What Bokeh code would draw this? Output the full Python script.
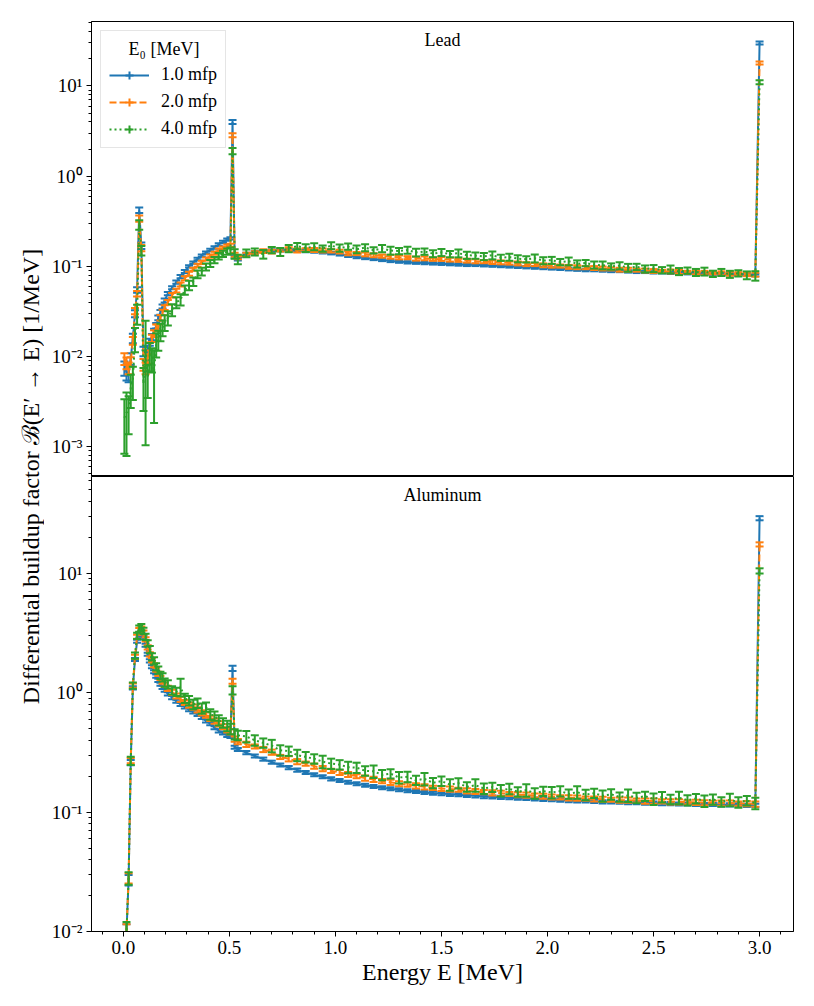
import numpy as np
from bokeh.plotting import figure
from bokeh.models import (ColumnDataSource, Range1d, FixedTicker, CustomJSTickFormatter,
                          PrintfTickFormatter, Legend, LegendItem, Label)
from bokeh.layouts import row, column
from bokeh.embed import file_html
from bokeh.resources import INLINE

FONT = "Liberation Serif"
TEXT_COLOR = "black"

# ---------------- data (bin centres in MeV) ----------------
energy = [0.005, 0.015, 0.025, 0.035, 0.045, 0.055, 0.065, 0.075, 0.085, 0.095,
          0.105, 0.115, 0.125, 0.135, 0.145, 0.155, 0.165, 0.175, 0.185, 0.195,
          0.21, 0.23, 0.25, 0.27, 0.29, 0.31, 0.33, 0.35, 0.37, 0.39, 0.41, 0.43, 0.45, 0.47, 0.49,
          0.505, 0.515, 0.525,
          0.54, 0.58, 0.62, 0.66, 0.70, 0.74, 0.78, 0.82, 0.86, 0.90, 0.94, 0.98,
          1.02, 1.06, 1.10, 1.14, 1.18, 1.22, 1.26, 1.30, 1.34, 1.38, 1.42, 1.46, 1.50,
          1.54, 1.58, 1.62, 1.66, 1.70, 1.74, 1.78, 1.82, 1.86, 1.90, 1.94, 1.98,
          2.02, 2.06, 2.10, 2.14, 2.18, 2.22, 2.26, 2.30, 2.34, 2.38, 2.42, 2.46, 2.50,
          2.54, 2.58, 2.62, 2.66, 2.70, 2.74, 2.78, 2.82, 2.86, 2.90, 2.94, 2.98,
          3.0]

series_labels = ["1.0 mfp", "2.0 mfp", "4.0 mfp"]
legend_title = "E₀ [MeV]"
panel_titles = ["Lead", "Aluminum"]

# Lead
pb_1mfp = [0.0075, 0.0068, 0.0065, 0.0095, 0.016, 0.030, 0.055, 0.42, 0.17, 0.0115,
           0.0105, 0.012, 0.0145, 0.0165, 0.019, 0.022, 0.027, 0.031, 0.036, 0.042,
           0.050, 0.058, 0.067, 0.077, 0.088, 0.100, 0.110, 0.121, 0.132, 0.142, 0.152, 0.162, 0.175, 0.187, 0.198,
           0.205, 4.0, 0.128,
           0.120, 0.138, 0.144, 0.148, 0.150, 0.151, 0.151, 0.150, 0.148, 0.146, 0.143, 0.140,
           0.136, 0.131, 0.127, 0.124, 0.121, 0.118, 0.115, 0.113, 0.111, 0.110, 0.109, 0.108, 0.107,
           0.106, 0.105, 0.104, 0.104, 0.103, 0.102, 0.101, 0.100, 0.099, 0.098, 0.097, 0.096,
           0.095, 0.094, 0.093, 0.092, 0.091, 0.091, 0.090, 0.089, 0.089, 0.088, 0.087, 0.087, 0.086,
           0.086, 0.085, 0.085, 0.084, 0.084, 0.083, 0.083, 0.082, 0.082, 0.081, 0.081, 0.080,
           30.0]
pb_1mfp_err_pct = [18, 20, 20, 15, 12, 9, 7, 7, 8, 12,
                   12, 10, 9, 8, 7, 7, 6, 6, 5, 5,
                   4, 4, 4, 4, 4, 3, 3, 3, 3, 3, 3, 3, 3, 3, 3,
                   3, 5, 4,
                   3, 3, 3, 3, 3, 3, 3, 3, 3, 3, 3, 3,
                   3, 3, 3, 3, 3, 3, 3, 3, 3, 3, 3, 3, 3,
                   3, 3, 3, 3, 3, 3, 3, 3, 3, 3, 3, 3,
                   3, 3, 3, 3, 3, 3, 3, 3, 3, 3, 3, 3, 3,
                   3, 3, 3, 3, 3, 3, 3, 3, 3, 3, 3, 3,
                   4]

pb_2mfp = [0.0095, 0.0085, 0.0075, 0.0088, 0.015, 0.032, 0.050, 0.34, 0.16, 0.0082,
           0.0075, 0.0095, 0.013, 0.016, 0.018, 0.021, 0.021, 0.027, 0.031, 0.035,
           0.040, 0.048, 0.054, 0.063, 0.074, 0.083, 0.093, 0.103, 0.111, 0.121, 0.130, 0.140, 0.152, 0.160, 0.168,
           0.172, 2.85, 0.135,
           0.126, 0.135, 0.142, 0.148, 0.146, 0.152, 0.155, 0.150, 0.153, 0.152, 0.150, 0.149,
           0.146, 0.140, 0.139, 0.136, 0.133, 0.130, 0.128, 0.126, 0.125, 0.122, 0.123, 0.120, 0.121,
           0.119, 0.117, 0.116, 0.114, 0.113, 0.112, 0.111, 0.109, 0.108, 0.106, 0.105, 0.103,
           0.102, 0.101, 0.099, 0.098, 0.097, 0.096, 0.095, 0.094, 0.092, 0.092, 0.091, 0.090, 0.089,
           0.088, 0.088, 0.087, 0.086, 0.086, 0.085, 0.085, 0.084, 0.083, 0.083, 0.082, 0.081,
           18.0]
pb_2mfp_err_pct = [15, 15, 15, 12, 10, 8, 7, 8, 8, 15,
                   15, 12, 10, 9, 9, 8, 8, 7, 7, 6,
                   6, 6, 5, 5, 5, 5, 4, 4, 4, 4, 4, 4, 4, 4, 4,
                   4, 5, 5,
                   5, 5, 4, 5, 5, 4, 5, 5, 4, 5, 5, 4,
                   5, 5, 4, 5, 5, 4, 5, 5, 4, 5, 5, 4, 5,
                   5, 4, 5, 5, 4, 5, 5, 4, 5, 5, 4, 5,
                   5, 4, 5, 5, 4, 5, 5, 4, 5, 5, 4, 5, 5,
                   4, 5, 5, 4, 5, 5, 4, 5, 5, 4, 5, 5,
                   4]

pb_4mfp = [0.0021, 0.0024, 0.0025, 0.0045, 0.0055, 0.016, 0.030, 0.29, 0.15, 0.0050,
           0.013, 0.0058, 0.0105, 0.0095, 0.0068, 0.0140, 0.0155, 0.019, 0.021, 0.024,
           0.027, 0.033, 0.040, 0.043, 0.055, 0.062, 0.068, 0.082, 0.088, 0.099, 0.108, 0.118, 0.130, 0.138, 0.146,
           0.150, 1.9, 0.138,
           0.120, 0.140, 0.145, 0.137, 0.152, 0.145, 0.158, 0.168, 0.160, 0.166, 0.158, 0.170,
           0.160, 0.166, 0.155, 0.162, 0.151, 0.158, 0.150, 0.148, 0.152, 0.143, 0.146, 0.139, 0.143,
           0.137, 0.140, 0.133, 0.132, 0.129, 0.133, 0.125, 0.127, 0.122, 0.120, 0.123, 0.116,
           0.117, 0.112, 0.114, 0.107, 0.109, 0.104, 0.103, 0.100, 0.102, 0.097, 0.099, 0.094, 0.095,
           0.091, 0.093, 0.088, 0.090, 0.086, 0.088, 0.083, 0.086, 0.082, 0.084, 0.080, 0.079,
           11.0]
pb_4mfp_err_pct = [60, 67, 45, 40, 40, 30, 25, 12, 12, 50,
                   92, 40, 35, 30, 73, 30, 25, 22, 20, 20,
                   18, 15, 14, 14, 12, 12, 11, 10, 10, 9, 9, 8, 8, 8, 8,
                   8, 8, 12,
                   12, 10, 9, 11, 8, 10, 9, 8, 10, 9, 8, 9,
                   9, 8, 10, 9, 8, 9, 10, 8, 9, 10, 8, 9, 9,
                   8, 10, 9, 8, 9, 10, 8, 9, 9, 8, 10, 9,
                   9, 8, 10, 9, 8, 9, 10, 8, 9, 10, 8, 9, 9,
                   8, 10, 9, 8, 9, 10, 8, 9, 9, 8, 10, 12,
                   5]

# Aluminum
al_1mfp = [0.002, 0.010, 0.027, 0.26, 1.1, 1.9, 2.7, 3.0, 3.1, 2.9,
           2.5, 2.1, 1.85, 1.65, 1.50, 1.38, 1.27, 1.18, 1.11, 1.05,
           0.98, 0.91, 0.85, 0.80, 0.76, 0.72, 0.69, 0.66, 0.62, 0.58, 0.55, 0.51, 0.48, 0.46, 0.44,
           0.43, 1.6, 0.35,
           0.335, 0.315, 0.295, 0.278, 0.262, 0.248, 0.236, 0.225, 0.215, 0.206, 0.198, 0.190,
           0.184, 0.178, 0.173, 0.168, 0.164, 0.160, 0.157, 0.154, 0.151, 0.149, 0.146, 0.144, 0.143,
           0.141, 0.140, 0.138, 0.137, 0.135, 0.134, 0.133, 0.132, 0.131, 0.130, 0.129, 0.128,
           0.127, 0.126, 0.125, 0.124, 0.124, 0.123, 0.122, 0.122, 0.121, 0.120, 0.120, 0.119, 0.119,
           0.118, 0.118, 0.117, 0.117, 0.116, 0.116, 0.116, 0.115, 0.115, 0.115, 0.114, 0.114,
           29.0]
al_1mfp_err_pct = [20, 15, 10, 5, 3, 3, 3, 3, 3, 3,
                   3, 3, 3, 3, 3, 3, 3, 3, 3, 3,
                   3, 3, 3, 3, 3, 3, 3, 3, 3, 3, 3, 3, 3, 3, 3,
                   3, 5, 3,
                   3, 3, 3, 3, 3, 3, 3, 3, 3, 3, 3, 3,
                   3, 3, 3, 3, 3, 3, 3, 3, 3, 3, 3, 3, 3,
                   3, 3, 3, 3, 3, 3, 3, 3, 3, 3, 3, 3,
                   3, 3, 3, 3, 3, 3, 3, 3, 3, 3, 3, 3, 3,
                   3, 3, 3, 3, 3, 3, 3, 3, 3, 3, 3, 3,
                   4]

al_2mfp = [0.002, 0.010, 0.028, 0.27, 1.15, 2.0, 2.95, 3.35, 3.45, 3.2,
           2.8, 2.4, 2.1, 1.88, 1.70, 1.56, 1.44, 1.33, 1.24, 1.17,
           1.09, 1.01, 0.94, 0.88, 0.83, 0.79, 0.76, 0.72, 0.68, 0.65, 0.61, 0.58, 0.55, 0.52, 0.49,
           0.47, 1.25, 0.41,
           0.39, 0.37, 0.355, 0.335, 0.318, 0.29, 0.28, 0.265, 0.255, 0.243, 0.232, 0.222,
           0.215, 0.207, 0.200, 0.193, 0.188, 0.182, 0.178, 0.173, 0.170, 0.166, 0.163, 0.160, 0.158,
           0.156, 0.154, 0.151, 0.149, 0.147, 0.145, 0.144, 0.142, 0.140, 0.139, 0.138, 0.136,
           0.134, 0.133, 0.132, 0.131, 0.130, 0.129, 0.128, 0.127, 0.126, 0.126, 0.125, 0.124, 0.124,
           0.123, 0.122, 0.122, 0.121, 0.121, 0.120, 0.120, 0.119, 0.119, 0.118, 0.118, 0.117,
           17.5]
al_2mfp_err_pct = [20, 15, 10, 5, 4, 4, 4, 4, 4, 4,
                   4, 4, 4, 4, 4, 4, 4, 4, 4, 4,
                   5, 5, 5, 5, 5, 5, 5, 5, 5, 5, 5, 5, 5, 5, 5,
                   5, 5, 5,
                   5, 5, 4, 5, 5, 4, 5, 5, 4, 5, 5, 4,
                   5, 5, 4, 5, 5, 4, 5, 5, 4, 5, 5, 4, 5,
                   5, 4, 5, 5, 4, 5, 5, 4, 5, 5, 4, 5,
                   5, 4, 5, 5, 4, 5, 5, 4, 5, 5, 4, 5, 5,
                   4, 5, 5, 4, 5, 5, 4, 5, 5, 4, 5, 5,
                   4]

al_4mfp = [0.002, 0.010, 0.028, 0.27, 1.15, 2.05, 3.0, 3.45, 3.55, 3.3,
           2.95, 2.6, 2.3, 2.0, 1.85, 1.65, 1.55, 1.40, 1.35, 1.22,
           1.18, 1.05, 1.02, 1.12, 0.90, 0.86, 0.80, 0.82, 0.74, 0.76, 0.66, 0.64, 0.59, 0.56, 0.53,
           0.50, 1.05, 0.45,
           0.44, 0.43, 0.40, 0.38, 0.36, 0.33, 0.325, 0.30, 0.29, 0.28, 0.265, 0.255,
           0.25, 0.238, 0.236, 0.222, 0.22, 0.205, 0.21, 0.195, 0.198, 0.185, 0.19, 0.176, 0.182,
           0.17, 0.175, 0.163, 0.168, 0.158, 0.162, 0.152, 0.157, 0.148, 0.153, 0.144, 0.150,
           0.146, 0.150, 0.142, 0.147, 0.140, 0.144, 0.137, 0.141, 0.134, 0.138, 0.132, 0.136, 0.129,
           0.134, 0.128, 0.132, 0.126, 0.130, 0.124, 0.128, 0.122, 0.127, 0.121, 0.125, 0.119,
           10.5]
al_4mfp_err_pct = [25, 20, 12, 8, 6, 6, 6, 6, 6, 6,
                   6, 6, 7, 7, 7, 7, 7, 7, 8, 8,
                   8, 8, 8, 17, 9, 9, 9, 9, 10, 9, 10, 9, 10, 9, 10,
                   10, 8, 10,
                   9, 11, 10, 9, 12, 10, 9, 11, 10, 9, 12, 10,
                   9, 11, 10, 9, 12, 10, 9, 11, 10, 9, 12, 10, 9,
                   11, 10, 9, 12, 10, 9, 11, 10, 9, 12, 10, 9,
                   11, 10, 9, 12, 10, 9, 11, 10, 9, 12, 10, 9, 11,
                   10, 9, 12, 10, 9, 11, 10, 9, 12, 10, 9, 11,
                   5]

for arr in (pb_1mfp, pb_1mfp_err_pct, pb_2mfp, pb_2mfp_err_pct, pb_4mfp, pb_4mfp_err_pct,
            al_1mfp, al_1mfp_err_pct, al_2mfp, al_2mfp_err_pct, al_4mfp, al_4mfp_err_pct):
    assert len(arr) == len(energy), len(arr)

x_major = [0.0, 0.5, 1.0, 1.5, 2.0, 2.5, 3.0]
x_minor = [-0.1, 0.1, 0.2, 0.3, 0.4, 0.6, 0.7, 0.8, 0.9, 1.1, 1.2, 1.3, 1.4, 1.6, 1.7, 1.8, 1.9,
           2.1, 2.2, 2.3, 2.4, 2.6, 2.7, 2.8, 2.9, 3.1]
pb_y_major = [1e-3, 1e-2, 1e-1, 1e0, 1e1]
al_y_major = [1e-2, 1e-1, 1e0, 1e1]

# ---------------- styling ----------------
COLORS = ["#1f77b4", "#ff7f0e", "#2ca02c"]
DASHES = ["solid", "7 3", "2 3"]
TICK_FS = "19px"
LEG_FS = "18px"
LABEL_FS = "24px"

SUP_JS = """
const e = Math.round(Math.log10(tick));
const m = {"-": "⁻", "0": "⁰", "1": "¹", "2": "²", "3": "³", "4": "⁴",
           "5": "⁵", "6": "⁶", "7": "⁷", "8": "⁸", "9": "⁹"};
return "10" + String(e).split("").map(c => m[c]).join("");
"""

X_LO, X_HI = -0.15, 3.16
xr = Range1d(X_LO, X_HI)
PB_LOG_LO, PB_LOG_HI = -3.329, 1.715
AL_LOG_LO, AL_LOG_HI = -2.0, 1.8116
FRAME_H = 455.0
FRAME_W = 702.0


def log_minors(lo_exp, hi_exp):
    return [m * 10.0 ** k for k in range(lo_exp, hi_exp) for m in range(2, 10)]


def make_panel(log_lo, log_hi, height, mb_top, mb_bottom, majors):
    p = figure(width=759, height=height, x_range=xr, y_range=Range1d(10 ** log_lo, 10 ** log_hi),
               y_axis_type="log", output_backend="svg", toolbar_location=None,
               min_border_left=47, min_border_right=10,
               min_border_top=mb_top, min_border_bottom=mb_bottom)
    p.grid.visible = False
    p.outline_line_color = "black"
    p.outline_line_width = 1
    p.background_fill_color = "white"
    p.border_fill_color = "white"
    ya = p.yaxis[0]
    ya.ticker = FixedTicker(ticks=majors, minor_ticks=log_minors(-4, 2))
    ya.formatter = CustomJSTickFormatter(code=SUP_JS)
    ya.major_label_text_font = FONT
    ya.major_label_text_font_size = TICK_FS
    ya.major_label_text_color = TEXT_COLOR
    ya.major_label_standoff = 4
    ya.major_tick_in = 0
    ya.major_tick_out = 5
    ya.minor_tick_in = 0
    ya.minor_tick_out = 3
    ya.axis_line_color = "black"
    ya.major_tick_line_color = "black"
    ya.minor_tick_line_color = "black"
    return p


def draw(p, y, rel, color, dash):
    y = np.asarray(y, float)
    e = y * np.asarray(rel, float) / 100.0
    src = ColumnDataSource(dict(x=energy, y=y, lo=y - e, hi=y + e))
    p.segment(x0="x", y0="lo", x1="x", y1="hi", source=src, line_color=color, line_width=2)
    p.scatter(x="x", y="lo", source=src, marker="dash", size=8, line_color=color, line_width=2)
    p.scatter(x="x", y="hi", source=src, marker="dash", size=8, line_color=color, line_width=2)
    return p.line(x="x", y="y", source=src, line_color=color, line_width=2, line_dash=dash)


top = make_panel(PB_LOG_LO, PB_LOG_HI, 476, 21, 0, pb_y_major)
top.xaxis.visible = False
bot = make_panel(AL_LOG_LO, AL_LOG_HI, 517, 0, 62, al_y_major)

xa = bot.xaxis[0]
xa.ticker = FixedTicker(ticks=x_major, minor_ticks=x_minor)
xa.formatter = PrintfTickFormatter(format="%.1f")
xa.major_label_text_font = FONT
xa.major_label_text_font_size = TICK_FS
xa.major_label_text_color = TEXT_COLOR
xa.major_label_standoff = 4
xa.major_tick_in = 0
xa.major_tick_out = 5
xa.minor_tick_in = 0
xa.minor_tick_out = 3
xa.axis_line_color = "black"
xa.major_tick_line_color = "black"
xa.minor_tick_line_color = "black"
xa.axis_label = "Energy E [MeV]"
xa.axis_label_text_font = FONT
xa.axis_label_text_font_size = LABEL_FS
xa.axis_label_text_font_style = "normal"
xa.axis_label_text_color = TEXT_COLOR
xa.axis_label_standoff = 2

pb_sets = [(pb_1mfp, pb_1mfp_err_pct), (pb_2mfp, pb_2mfp_err_pct), (pb_4mfp, pb_4mfp_err_pct)]
al_sets = [(al_1mfp, al_1mfp_err_pct), (al_2mfp, al_2mfp_err_pct), (al_4mfp, al_4mfp_err_pct)]

items = []
for i, (yv, ev) in enumerate(pb_sets):
    r = draw(top, yv, ev, COLORS[i], DASHES[i])
    d = top.scatter(x=[np.nan], y=[np.nan], marker="cross", size=10, line_color=COLORS[i], line_width=2)
    items.append(LegendItem(label=series_labels[i], renderers=[r, d]))
for i, (yv, ev) in enumerate(al_sets):
    draw(bot, yv, ev, COLORS[i], DASHES[i])

# legend with a blank title row; the centred title text is drawn as a Label in that row
legend = Legend(items=items, location="top_left", title=" ",
                title_text_font=FONT, title_text_font_size=LEG_FS, title_text_font_style="normal",
                title_standoff=4, label_text_font=FONT, label_text_font_size=LEG_FS,
                label_text_color=TEXT_COLOR,
                glyph_width=40, glyph_height=20, label_height=20, spacing=6, padding=8,
                label_standoff=12, margin=9,
                border_line_color="#cccccc", border_line_width=1,
                background_fill_color="white", background_fill_alpha=0.0)
top.add_layout(legend)

px_per_x = FRAME_W / (X_HI - X_LO)
pb_px_per_dec = FRAME_H / (PB_LOG_HI - PB_LOG_LO)
al_px_per_dec = FRAME_H / (AL_LOG_HI - AL_LOG_LO)

title_label = Label(x=X_LO + 72.5 / px_per_x, y=10 ** (PB_LOG_HI - 27 / pb_px_per_dec),
                    text=legend_title, text_align="center", text_baseline="middle",
                    text_font=FONT, text_font_size=LEG_FS, text_color=TEXT_COLOR)
top.add_layout(title_label)

top.add_layout(Label(x=(X_LO + X_HI) / 2, y=10 ** (PB_LOG_HI - 18 / pb_px_per_dec), text=panel_titles[0],
                     text_align="center", text_baseline="middle", text_font=FONT, text_font_size="18px",
                     text_color=TEXT_COLOR))
bot.add_layout(Label(x=(X_LO + X_HI) / 2, y=10 ** (AL_LOG_HI - 18 / al_px_per_dec), text=panel_titles[1],
                     text_align="center", text_baseline="middle", text_font=FONT, text_font_size="18px",
                     text_color=TEXT_COLOR))

# shared y-axis label column
lab = figure(width=44, height=993, x_range=Range1d(0, 1), y_range=Range1d(0, 1),
             output_backend="svg", toolbar_location=None,
             min_border_left=0, min_border_right=0, min_border_top=21, min_border_bottom=62)
lab.axis.visible = False
lab.grid.visible = False
lab.outline_line_color = None
lab.add_layout(Label(x=0.70, y=0.5, text="Differential buildup factor ℬ(E′ → E) [1/MeV]",
                     angle=np.pi / 2, text_align="center", text_baseline="middle",
                     text_font=FONT, text_font_size=LABEL_FS, text_color=TEXT_COLOR))

layout = row(lab, column(top, bot))
open("out.html", "w").write(file_html(layout, INLINE))
